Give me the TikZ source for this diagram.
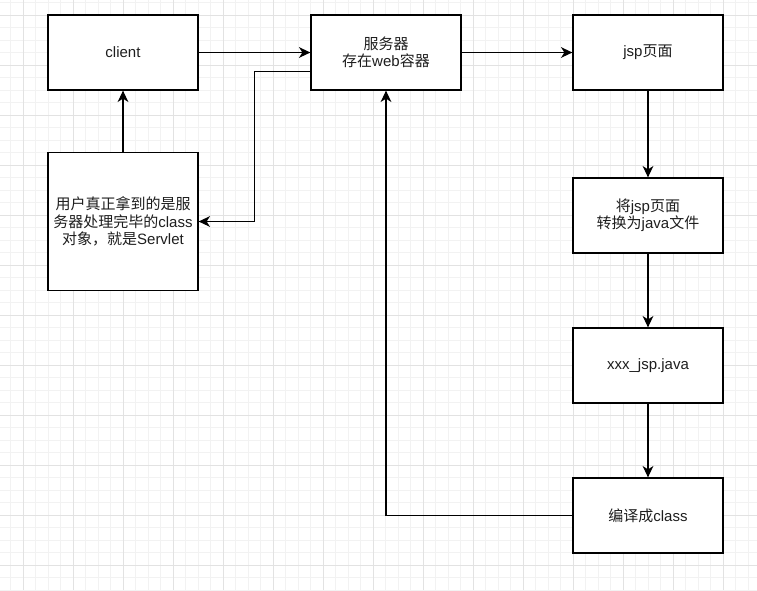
\documentclass[tikz,border=0pt]{standalone}
\usepackage{fontspec}
\setmainfont{Liberation Sans}
\newfontfamily\cjk{Noto Sans CJK SC}
\usetikzlibrary{arrows.meta}
\definecolor{gridminor}{RGB}{242,242,242}
\definecolor{gridmajor}{RGB}{226,226,226}
\definecolor{txt}{RGB}{30,30,30}
\begin{document}
\begin{tikzpicture}[x=0.75pt,y=-0.75pt,
  box/.style={draw=black, fill=white, line width=0.95pt, minimum width=112.5pt,
    minimum height=56.25pt, align=center, inner sep=0pt, text=txt,
    font=\fontsize{11.25}{13}\selectfont},
  conn/.style={draw=black, line width=0.95pt,
    -{Stealth[length=8.5pt,width=8pt,inset=2.5pt]}}]
\useasboundingbox (0,0) rectangle (757,590);
\fill[white] (0,0) rectangle (757,590);
% grid
\foreach \i in {0,...,61} {
  \pgfmathsetmacro\xx{10.833+12.5*\i}
  \draw[gridminor, line width=0.75pt] (\xx,0) -- (\xx,590);
}
\foreach \i in {0,...,47} {
  \pgfmathsetmacro\yy{2.5+12.5*\i}
  \draw[gridminor, line width=0.75pt] (0,\yy) -- (757,\yy);
}
\foreach \i in {0,...,15} {
  \pgfmathsetmacro\xx{23.333+50*\i}
  \draw[gridmajor, line width=0.75pt] (\xx,0) -- (\xx,590);
}
\foreach \i in {0,...,11} {
  \pgfmathsetmacro\yy{15+50*\i}
  \draw[gridmajor, line width=0.75pt] (0,\yy) -- (757,\yy);
}
% nodes
\node[box] (client) at (123,52.5) {client};
\node[box] (server) at (386,52.5) {{\cjk 服务器}\\{\cjk 存在}web{\cjk 容器}};
\node[box] (jsp) at (648,52.5) {jsp{\cjk 页面}};
\node[box, minimum height=103.125pt] (user) at (123,221.5)
  {{\cjk 用户真正拿到的是服}\\{\cjk 务器处理完毕的}class\\{\cjk 对象，就是}Servlet};
\node[box] (conv) at (648,215.5) {{\cjk 将}jsp{\cjk 页面}\\{\cjk 转换为}java{\cjk 文件}};
\node[box] (javaf) at (648,365.5) {xxx\_jsp.java};
\node[box] (compile) at (648,515.5) {{\cjk 编译成}class};
% connectors
\coordinate (sx) at (311,71.25);
\coordinate (b1) at (254.5,71.25);
\draw[conn] (client) -- (server);
\draw[conn] (server) -- (jsp);
\draw[conn] (sx) -- (b1) |- (user.east);
\draw[conn] (user) -- (client);
\draw[conn] (jsp) -- (conv);
\draw[conn] (conv) -- (javaf);
\draw[conn] (javaf) -- (compile);
\draw[conn] (compile.west) -| (server.south);
\end{tikzpicture}
\end{document}
